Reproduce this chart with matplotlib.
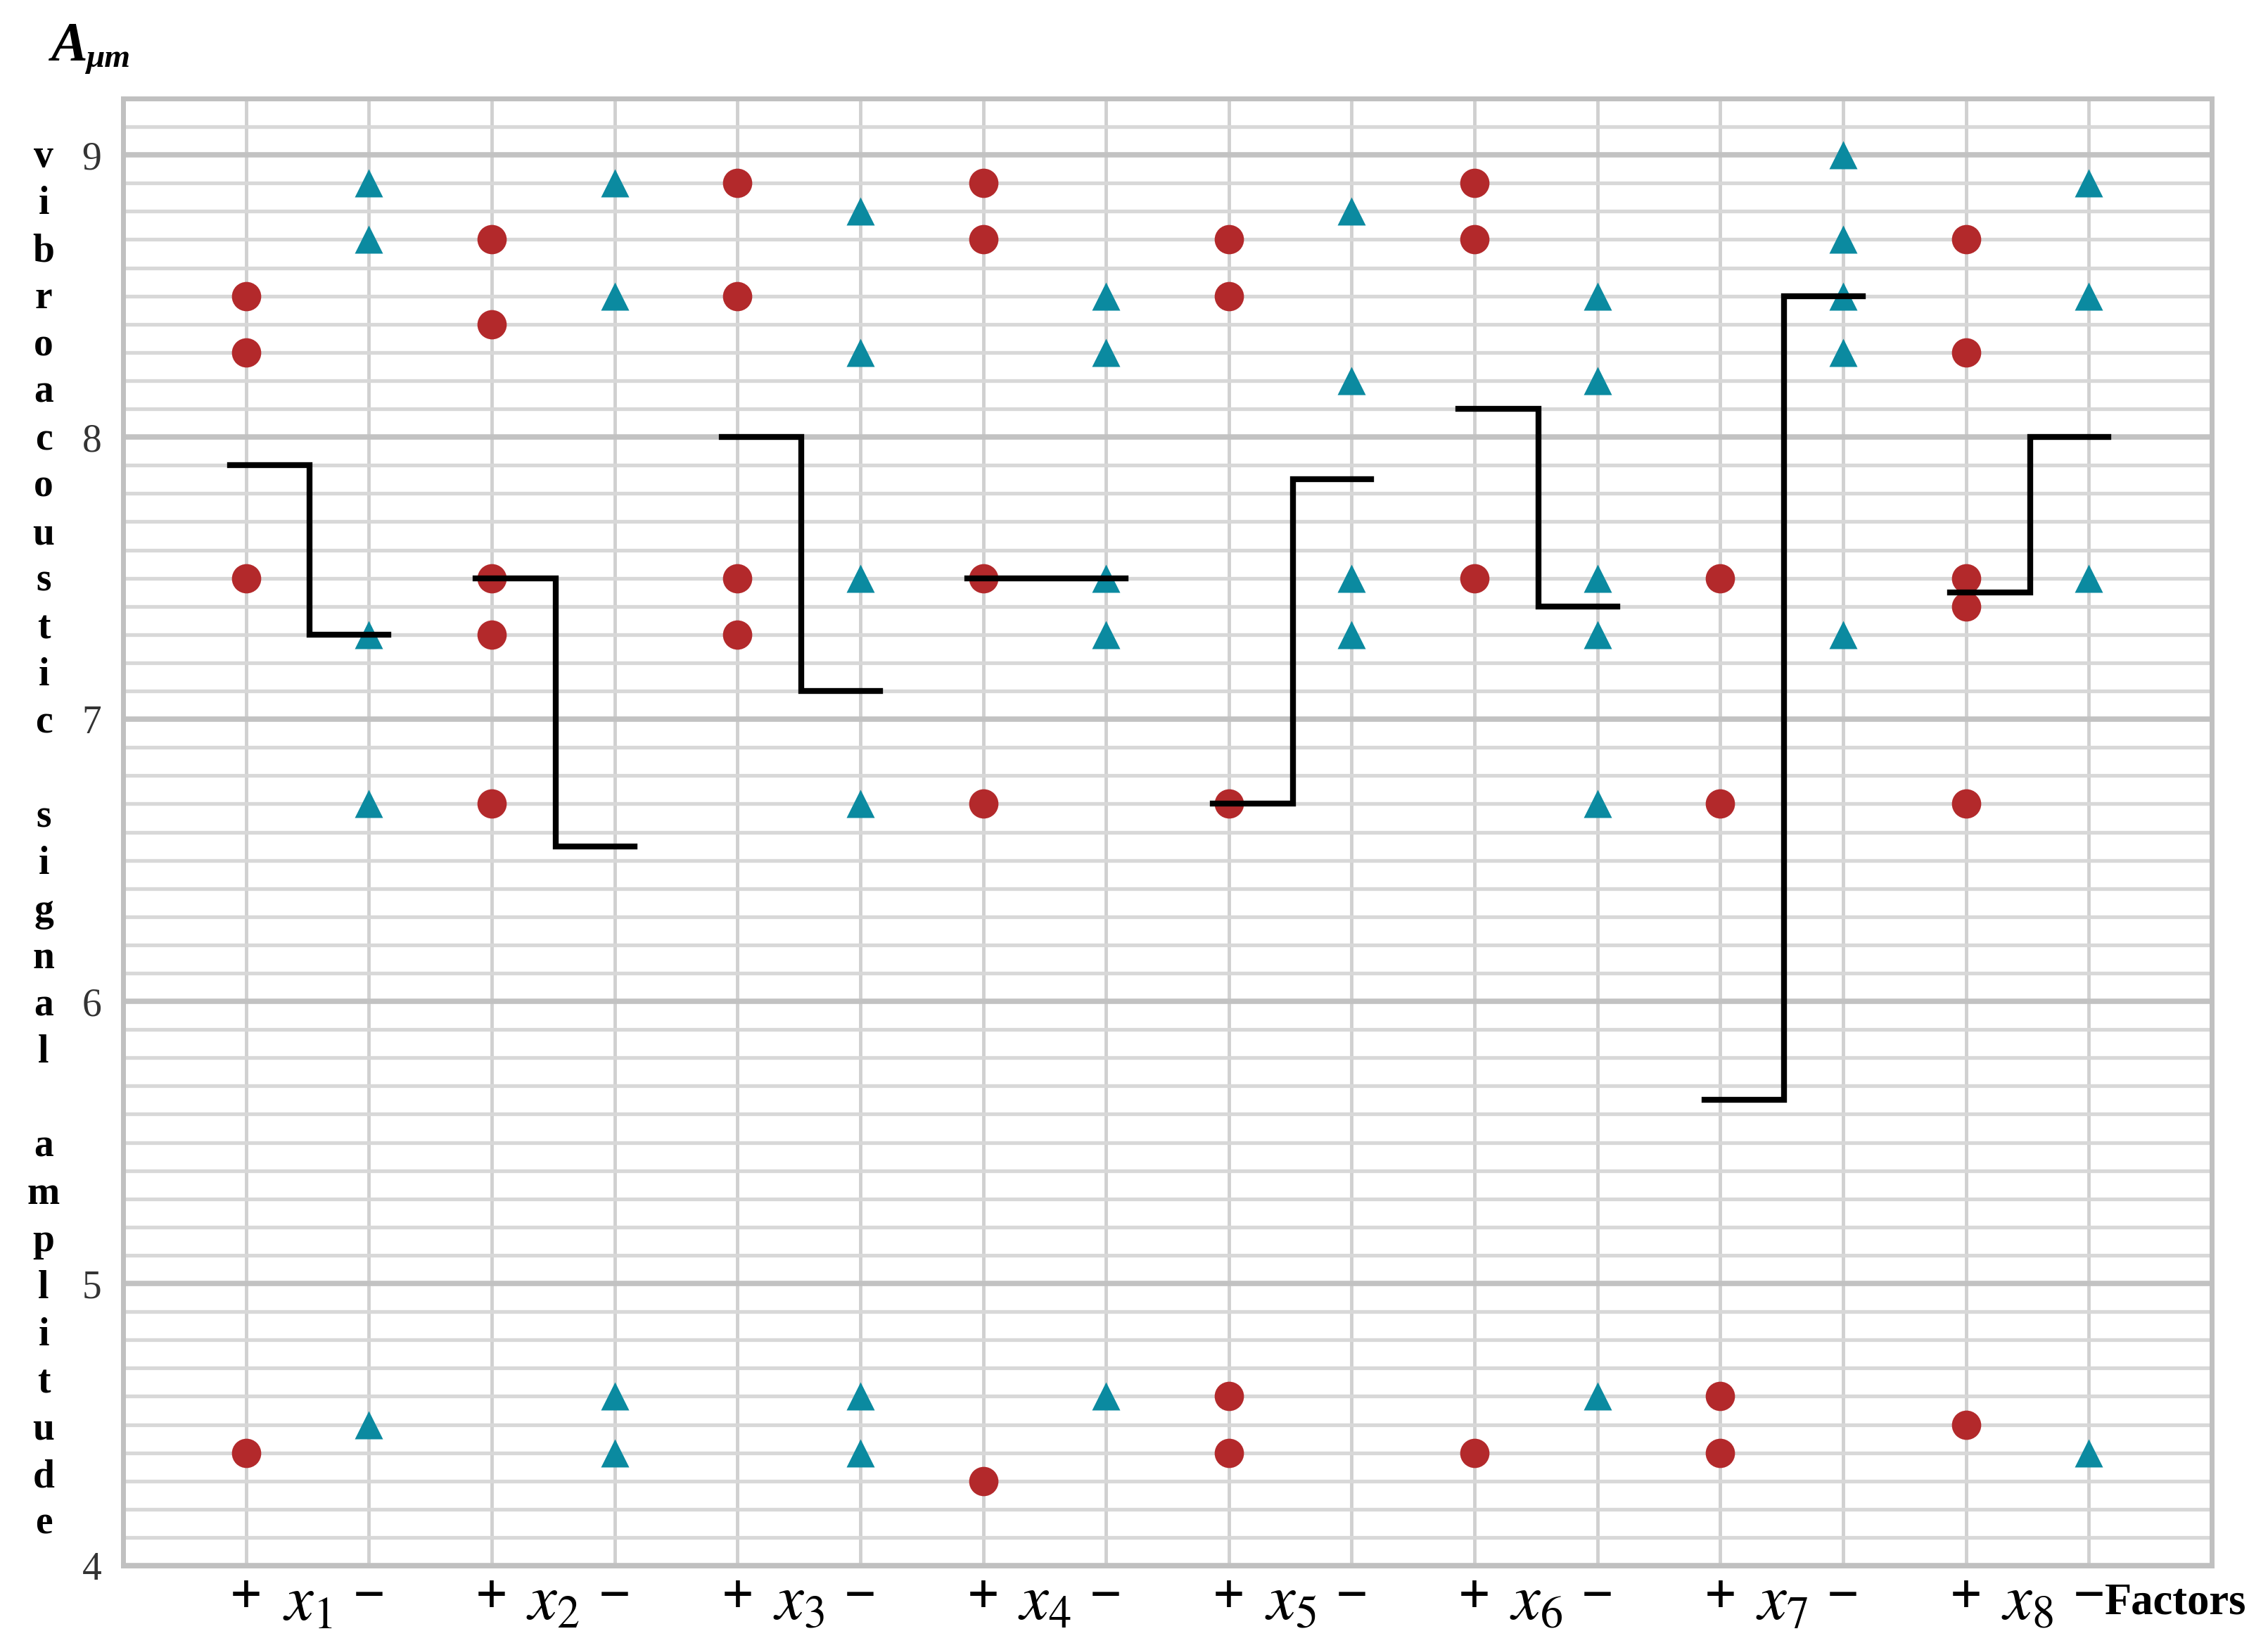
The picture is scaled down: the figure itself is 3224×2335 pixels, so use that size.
import numpy as np
import matplotlib.pyplot as plt
from matplotlib.ticker import MultipleLocator

plt.rcParams['mathtext.fontset'] = 'stix'

# factor names and readings
factors = ['1', '2', '3', '4', '5', '6', '7', '8']

# individual measurements at "+" level (circles) and "-" level (triangles)
plus_pts = [
    [8.5, 8.3, 7.5, 4.4],
    [8.7, 8.4, 7.5, 7.3, 6.7],
    [8.9, 8.5, 7.5, 7.3],
    [8.9, 8.7, 7.5, 6.7, 4.3],
    [8.7, 8.5, 6.7, 4.6, 4.4],
    [8.9, 8.7, 7.5, 4.4],
    [7.5, 6.7, 4.6, 4.4],
    [8.7, 8.3, 7.5, 7.4, 6.7, 4.5],
]
minus_pts = [
    [8.9, 8.7, 7.3, 6.7, 4.5],
    [8.9, 8.5, 4.6, 4.4],
    [8.8, 8.3, 7.5, 6.7, 4.6, 4.4],
    [8.5, 8.3, 7.5, 7.3, 4.6],
    [8.8, 8.2, 7.5, 7.3],
    [8.5, 8.2, 7.5, 7.3, 6.7, 4.6],
    [9.0, 8.7, 8.5, 8.3, 7.3],
    [8.9, 8.5, 7.5, 4.4],
]

# mean levels (step lines)
plus_mean = [7.9, 7.5, 8.0, 7.5, 6.7, 8.1, 5.65, 7.45]
minus_mean = [7.3, 6.55, 7.1, 7.5, 7.85, 7.4, 8.5, 8.0]

red = '#b3292b'
teal = '#0b8aa0'
W, H = 3224, 2335

fig = plt.figure(figsize=(W / 100, H / 100), dpi=100)
ax = fig.add_axes([175 / W, 1 - 2225 / H, (3144 - 175) / W, (2225 - 140) / H])

n = len(factors)
xp = np.arange(n) * 2
xm = xp + 1

for i in range(n):
    ax.plot([xp[i]] * len(plus_pts[i]), plus_pts[i], 'o', ms=30, color=red, mec='none', zorder=3)
    ax.plot([xm[i]] * len(minus_pts[i]), minus_pts[i], '^', ms=29, color=teal, mec='none', zorder=3)
    xs = [xp[i] - 0.13, xp[i] + 0.52, xp[i] + 0.52, xm[i] + 0.16]
    ys = [plus_mean[i], plus_mean[i], minus_mean[i], minus_mean[i]]
    ax.plot(xs, ys, color='black', lw=6, solid_joinstyle='miter', zorder=4)

ax.set_xlim(-1, 2 * n)
ax.set_ylim(4, 9.2)

# grid
ax.set_yticks(np.arange(4, 10, 1))
ax.yaxis.set_minor_locator(MultipleLocator(0.1))
ax.grid(which='minor', axis='y', color='#d8d8d8', lw=3.8)
ax.grid(which='major', axis='y', color='#c2c2c2', lw=5.5)
ax.set_axisbelow(True)

ticks = np.sort(np.concatenate([xp, xm]))
ax.set_xticks(ticks, ['+' if t % 2 == 0 else '\u2212' for t in ticks])
ax.set_xticks(xp + 0.5, [r'$x_{%s}$' % f for f in factors], minor=True)
ax.grid(which='major', axis='x', color='#d0d0d0', lw=3.5)
ax.tick_params(axis='x', which='major', length=0, pad=8, labelsize=58)
ax.tick_params(axis='x', which='minor', length=0, pad=4, labelsize=66)
ax.tick_params(axis='y', which='both', length=0, pad=22, labelsize=40, labelcolor='#333333')
for lab in ax.get_yticklabels():
    lab.set_fontfamily('Liberation Serif')
for lab in ax.get_xticklabels():
    lab.set_fontfamily('Liberation Serif')
    lab.set_fontweight('bold')

for s in ax.spines.values():
    s.set_color('#c0c0c0')
    s.set_linewidth(5)

# axis titles
fig.text(62 / W, 1 - 197 / H, '\n'.join('vibroacoustic signal amplitude'),
         ha='center', va='top', ma='center', fontfamily='Liberation Serif',
         fontweight='bold', fontsize=40, linespacing=1.375)
fig.text(72 / W, 1 - 66 / H, 'A', ha='left', va='center', fontfamily='Liberation Serif',
         fontweight='bold', style='italic', fontsize=56)
fig.text(122 / W, 1 - 84 / H, '\u03bcm', ha='left', va='center', fontfamily='Liberation Serif',
         fontweight='bold', style='italic', fontsize=34)
fig.text(2992 / W, 1 - 2278 / H, 'Factors', ha='left', va='center', fontfamily='Liberation Serif',
         fontweight='bold', fontsize=45)

fig.savefig('out.png', dpi=100)
